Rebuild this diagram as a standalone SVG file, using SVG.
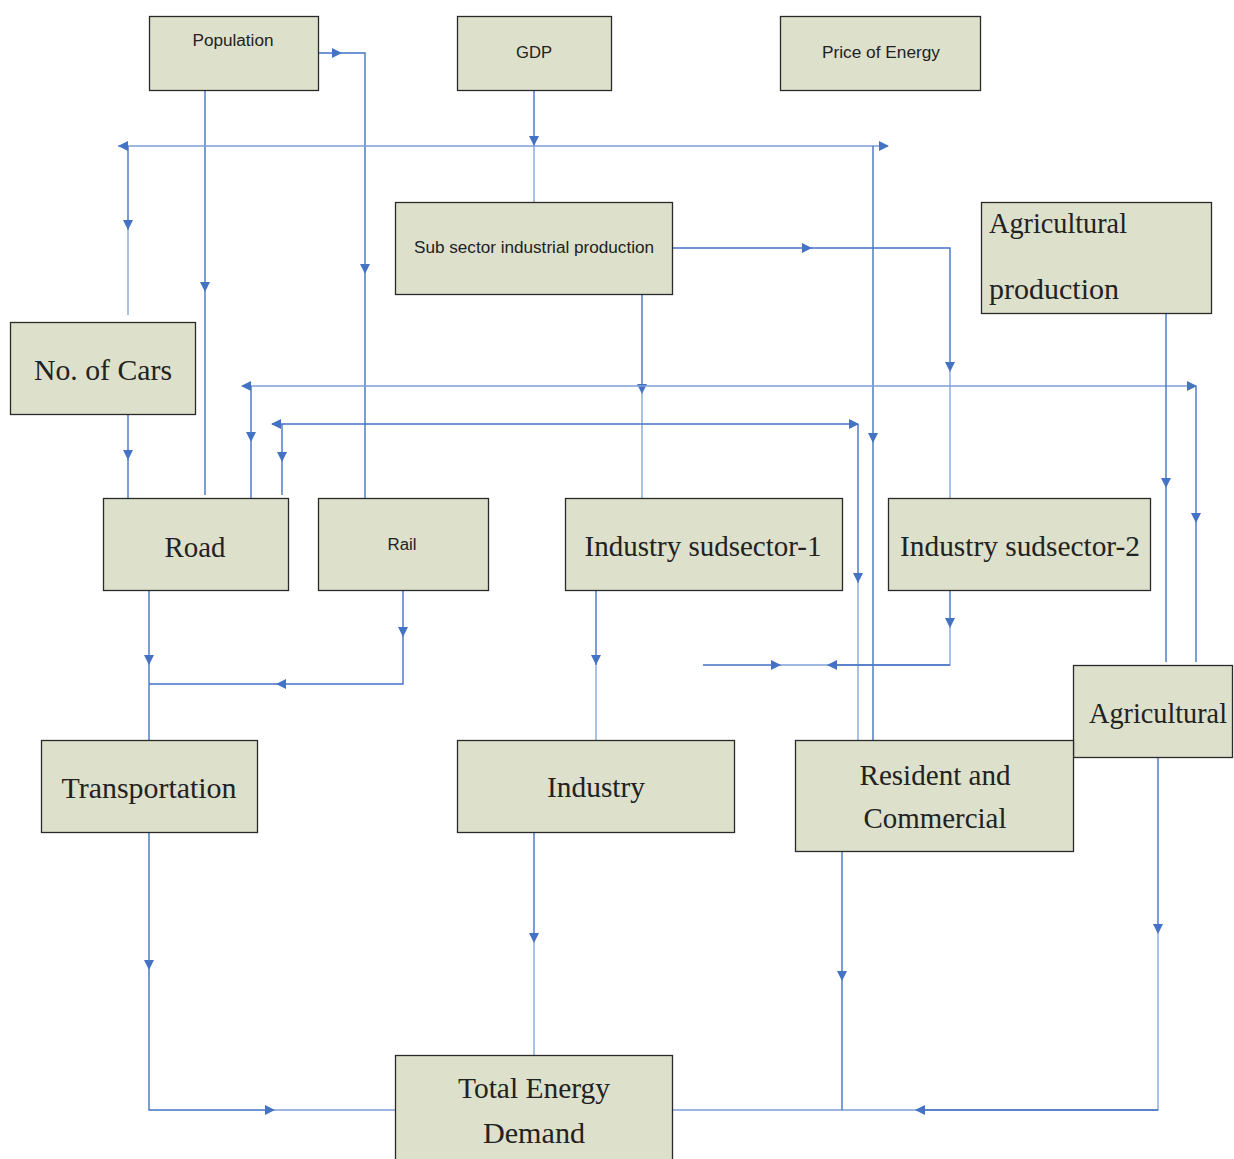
<svg xmlns="http://www.w3.org/2000/svg" width="1234" height="1159" viewBox="0 0 1234 1159">
<style>
.box{fill:#dde0cb;stroke:#2a2a2a;stroke-width:1.3}
.sr{font-family:"Liberation Serif","DejaVu Serif",serif;fill:#222}
.ss{font-family:"Liberation Sans","DejaVu Sans",sans-serif;fill:#222}
.c{stroke:#4472c4;stroke-width:1.4;fill:none}
.lt{stroke:#7e9fd8;stroke-width:1.3;fill:none}
.ah{fill:#4472c4}
</style>
<defs>
<polygon id="ad" points="-5,-10 5,-10 0,0"/>
<polygon id="ar" points="-10,-5 -10,5 0,0"/>
<polygon id="al" points="10,-5 10,5 0,0"/>
</defs>
<g id="connectors">
<!-- Population to Rail -->
<polyline class="c" points="319,53 365,53 365,498"/>
<use href="#ar" class="ah" x="342" y="53"/>
<use href="#ad" class="ah" x="365" y="274"/>
<!-- Population to Road -->
<line class="c" x1="205" y1="90" x2="205" y2="495"/>
<use href="#ad" class="ah" x="205" y="292"/>
<!-- GDP down -->
<line class="c" x1="534" y1="90" x2="534" y2="146"/>
<line class="lt" x1="534" y1="146" x2="534" y2="202"/>
<use href="#ad" class="ah" x="534" y="146"/>
<!-- horizontal 146 -->
<line class="lt" x1="118" y1="146" x2="888" y2="146"/>
<use href="#al" class="ah" x="118" y="146"/>
<use href="#ar" class="ah" x="889" y="146"/>
<line class="c" x1="128" y1="146" x2="128" y2="230"/>
<line class="lt" x1="128" y1="230" x2="128" y2="315"/>
<use href="#ad" class="ah" x="128" y="230"/>
<line class="c" x1="873" y1="146" x2="873" y2="740"/>
<use href="#ad" class="ah" x="873" y="443"/>
<!-- No. of Cars to Road -->
<line class="c" x1="128" y1="415" x2="128" y2="502"/>
<use href="#ad" class="ah" x="128" y="460"/>
<!-- Sub sector right -->
<polyline class="c" points="672,248 950,248 950,367"/>
<line class="lt" x1="950" y1="367" x2="950" y2="498"/>
<use href="#ar" class="ah" x="812" y="248"/>
<use href="#ad" class="ah" x="950" y="372"/>
<!-- Sub sector bottom -->
<line class="c" x1="642" y1="294" x2="642" y2="386"/>
<line class="lt" x1="642" y1="386" x2="642" y2="498"/>
<use href="#ad" class="ah" x="642" y="394"/>
<!-- horizontal 386 -->
<line class="lt" x1="242" y1="386" x2="1196" y2="386"/>
<use href="#al" class="ah" x="241" y="386"/>
<use href="#ar" class="ah" x="1197" y="386"/>
<line class="c" x1="251" y1="386" x2="251" y2="500"/>
<use href="#ad" class="ah" x="251" y="442"/>
<line class="c" x1="1196" y1="386" x2="1196" y2="662"/>
<use href="#ad" class="ah" x="1196" y="523"/>
<!-- horizontal 424 -->
<line class="c" x1="272" y1="424" x2="858" y2="424"/>
<use href="#al" class="ah" x="271" y="424"/>
<use href="#ar" class="ah" x="859" y="424"/>
<line class="c" x1="282" y1="424" x2="282" y2="495"/>
<use href="#ad" class="ah" x="282" y="462"/>
<line class="c" x1="858" y1="424" x2="858" y2="583"/>
<line class="lt" x1="858" y1="583" x2="858" y2="740"/>
<use href="#ad" class="ah" x="858" y="583"/>
<!-- Agricultural production down -->
<line class="c" x1="1166" y1="313" x2="1166" y2="662"/>
<use href="#ad" class="ah" x="1166" y="488"/>
<!-- Road to Transportation -->
<line class="c" x1="149" y1="591" x2="149" y2="740"/>
<use href="#ad" class="ah" x="149" y="665"/>
<!-- Rail down and left -->
<polyline class="c" points="403,591 403,684 149,684"/>
<use href="#ad" class="ah" x="403" y="637"/>
<use href="#al" class="ah" x="276" y="684"/>
<!-- Industry sudsector-1 to Industry -->
<line class="c" x1="596" y1="591" x2="596" y2="665"/>
<line class="lt" x1="596" y1="665" x2="596" y2="740"/>
<use href="#ad" class="ah" x="596" y="665"/>
<!-- Industry sudsector-2 down and left -->
<line class="c" x1="950" y1="591" x2="950" y2="626"/>
<polyline class="lt" points="950,626 950,665 828,665"/>
<use href="#ad" class="ah" x="950" y="628"/>
<line class="c" x1="703" y1="665" x2="780" y2="665"/>
<line class="lt" x1="780" y1="665" x2="828" y2="665"/>
<line class="c" x1="828" y1="665" x2="950" y2="665"/>
<use href="#ar" class="ah" x="781" y="665"/>
<use href="#al" class="ah" x="827" y="665"/>
<!-- Agricultural to Total -->
<line class="c" x1="1158" y1="758" x2="1158" y2="930"/>
<polyline class="lt" points="1158,930 1158,1110 916,1110"/>
<line class="c" x1="916" y1="1110" x2="1158" y2="1110"/>
<line class="lt" x1="672" y1="1110" x2="916" y2="1110"/>
<use href="#ad" class="ah" x="1158" y="934"/>
<use href="#al" class="ah" x="915" y="1110"/>
<!-- Resident to bottom -->
<line class="c" x1="842" y1="851" x2="842" y2="1110"/>
<use href="#ad" class="ah" x="842" y="981"/>
<!-- Industry to Total -->
<line class="c" x1="534" y1="832" x2="534" y2="938"/>
<line class="lt" x1="534" y1="938" x2="534" y2="1055"/>
<use href="#ad" class="ah" x="534" y="943"/>
<!-- Transportation to Total -->
<polyline class="c" points="149,832 149,1110 270,1110"/>
<line class="lt" x1="270" y1="1110" x2="395" y2="1110"/>
<use href="#ad" class="ah" x="149" y="970"/>
<use href="#ar" class="ah" x="275" y="1110"/>
</g>
<g id="population"><rect class="box" x="149.5" y="16.5" width="169" height="74"/><text class="ss" x="233" y="46" font-size="16" text-anchor="middle" textLength="81" lengthAdjust="spacingAndGlyphs">Population</text></g>
<g id="gdp"><rect class="box" x="457.5" y="16.5" width="154" height="74"/><text class="ss" x="534" y="58" font-size="16" text-anchor="middle" textLength="36" lengthAdjust="spacingAndGlyphs">GDP</text></g>
<g id="price"><rect class="box" x="780.5" y="16.5" width="200" height="74"/><text class="ss" x="881" y="58" font-size="16" text-anchor="middle" textLength="118" lengthAdjust="spacingAndGlyphs">Price of Energy</text></g>
<g id="subsector"><rect class="box" x="395.5" y="202.5" width="277" height="92"/><text class="ss" x="534" y="253" font-size="16" text-anchor="middle" textLength="240" lengthAdjust="spacingAndGlyphs">Sub sector industrial production</text></g>
<g id="agriprod"><rect class="box" x="981.5" y="202.5" width="230" height="111"/><text class="sr" x="989" y="233" font-size="30" textLength="138" lengthAdjust="spacingAndGlyphs">Agricultural</text><text class="sr" x="989" y="299" font-size="30" textLength="130" lengthAdjust="spacingAndGlyphs">production</text></g>
<g id="cars"><rect class="box" x="10.5" y="322.5" width="185" height="92"/><text class="sr" x="103" y="380" font-size="30" text-anchor="middle" textLength="138" lengthAdjust="spacingAndGlyphs">No. of Cars</text></g>
<g id="road"><rect class="box" x="103.5" y="498.5" width="185" height="92"/><text class="sr" x="195" y="557" font-size="30" text-anchor="middle" textLength="61" lengthAdjust="spacingAndGlyphs">Road</text></g>
<g id="rail"><rect class="box" x="318.5" y="498.5" width="170" height="92"/><text class="ss" x="402" y="550" font-size="16" text-anchor="middle" textLength="29" lengthAdjust="spacingAndGlyphs">Rail</text></g>
<g id="ind1"><rect class="box" x="565.5" y="498.5" width="277" height="92"/><text class="sr" x="703" y="556" font-size="29" text-anchor="middle" textLength="237" lengthAdjust="spacingAndGlyphs">Industry sudsector-1</text></g>
<g id="ind2"><rect class="box" x="888.5" y="498.5" width="262" height="92"/><text class="sr" x="1020" y="556" font-size="29" text-anchor="middle" textLength="240" lengthAdjust="spacingAndGlyphs">Industry sudsector-2</text></g>
<g id="agri"><rect class="box" x="1073.5" y="665.5" width="159" height="92"/><text class="sr" x="1089" y="723" font-size="30" textLength="138" lengthAdjust="spacingAndGlyphs">Agricultural</text></g>
<g id="transport"><rect class="box" x="41.5" y="740.5" width="216" height="92"/><text class="sr" x="149" y="798" font-size="29" text-anchor="middle" textLength="175" lengthAdjust="spacingAndGlyphs">Transportation</text></g>
<g id="industry"><rect class="box" x="457.5" y="740.5" width="277" height="92"/><text class="sr" x="596" y="797" font-size="30" text-anchor="middle" textLength="98" lengthAdjust="spacingAndGlyphs">Industry</text></g>
<g id="resident"><rect class="box" x="795.5" y="740.5" width="278" height="111"/><text class="sr" x="935" y="785" font-size="30" text-anchor="middle" textLength="151" lengthAdjust="spacingAndGlyphs">Resident and</text><text class="sr" x="935" y="828" font-size="30" text-anchor="middle" textLength="143" lengthAdjust="spacingAndGlyphs">Commercial</text></g>
<g id="total"><rect class="box" x="395.5" y="1055.5" width="277" height="110"/><text class="sr" x="534" y="1098" font-size="30" text-anchor="middle" textLength="152" lengthAdjust="spacingAndGlyphs">Total Energy</text><text class="sr" x="534" y="1143" font-size="30" text-anchor="middle" textLength="102" lengthAdjust="spacingAndGlyphs">Demand</text></g>
</svg>
